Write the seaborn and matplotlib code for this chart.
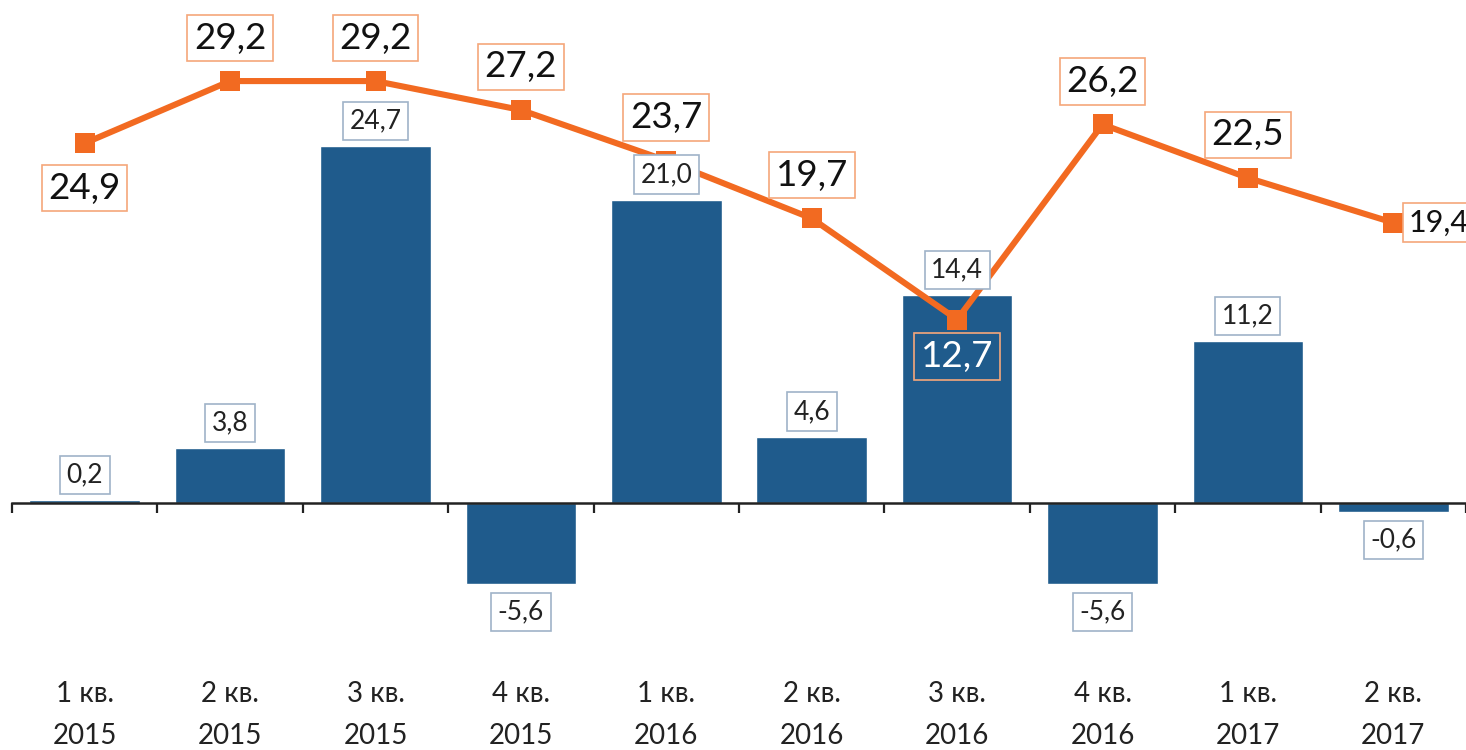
import numpy as np
import pandas as pd
import matplotlib
matplotlib.use('Agg')
import matplotlib.pyplot as plt
import seaborn as sns

quarters = ['1 кв.\n2015', '2 кв.\n2015', '3 кв.\n2015', '4 кв.\n2015',
            '1 кв.\n2016', '2 кв.\n2016', '3 кв.\n2016', '4 кв.\n2016',
            '1 кв.\n2017', '2 кв.\n2017']
bar_values = [0.2, 3.8, 24.7, -5.6, 21.0, 4.6, 14.4, -5.6, 11.2, -0.6]
line_values = [24.9, 29.2, 29.2, 27.2, 23.7, 19.7, 12.7, 26.2, 22.5, 19.4]
# where each line label sits relative to its marker
line_label_side = ['below', 'above', 'above', 'above', 'above',
                   'above', 'below', 'above', 'above', 'right']

BLUE = '#1f5b8c'
ORANGE = '#f26a21'

sns.set_theme(style='white')
plt.rcParams['font.family'] = ['Lato', 'Open Sans', 'DejaVu Sans']

df = pd.DataFrame({'quarter': quarters, 'bars': bar_values, 'line': line_values})

fig = plt.figure(figsize=(14.66, 7.5), dpi=100)
ax = fig.add_axes([12 / 1466, 0, 1 - 12 / 1466, 1])

sns.barplot(data=df, x='quarter', y='bars', color=BLUE, saturation=1,
            width=0.76, ax=ax)
sns.lineplot(x=np.arange(len(quarters)), y=df['line'].values, color=ORANGE,
             lw=4.4, marker='s', markersize=14.5, markeredgewidth=0, ax=ax)

ax.set_xlim(-0.5, 9.5)
ax.set_ylim(-17.09, 34.81)
ax.set_xlabel('')
ax.set_ylabel('')
ax.set_yticks([])

for s in ['left', 'right', 'top']:
    ax.spines[s].set_visible(False)
ax.spines['bottom'].set_position(('data', 0))
ax.spines['bottom'].set_color('#222222')
ax.spines['bottom'].set_linewidth(1.8)

ax.set_xticks(np.arange(len(quarters)))
ax.set_xticklabels(quarters, fontsize=20, color='#222222', linespacing=1.75)
ax.tick_params(axis='x', which='major', bottom=True, length=0, pad=128)
ax.set_xticks(np.arange(-0.5, 10, 1), minor=True)
ax.tick_params(axis='x', which='minor', bottom=True, length=7.5, width=1.6,
               direction='out', color='#222222')

# bar value labels
for i, v in enumerate(bar_values):
    off = 25 if v >= 0 else -28
    ax.annotate(f'{v:.1f}'.replace('.', ','), xy=(i, v), xytext=(0, off),
                textcoords='offset pixels', ha='center', va='center',
                fontsize=19, color='#222222', zorder=6,
                bbox=dict(boxstyle='square,pad=0.25', fc='white',
                          ec='#9fb3c8', lw=1.2))

# line value labels
for i, (v, side) in enumerate(zip(line_values, line_label_side)):
    fc, tc, fs = 'white', '#111111', 26.5
    if side == 'above':
        off, ha = (0, 43), 'center'
    elif side == 'below':
        off, ha = (0, -45), 'center'
    else:
        off, ha, fs = (15, 0), 'left', 22
    if i == 6:
        off = (0, -37)
        fc, tc = BLUE, 'white'
    ax.annotate(f'{v:.1f}'.replace('.', ','), xy=(i, v), xytext=off,
                textcoords='offset pixels', ha=ha, va='center',
                fontsize=fs, color=tc, zorder=5,
                bbox=dict(boxstyle='square,pad=0.18', fc=fc,
                          ec='#f5a77a', lw=1.2))

fig.savefig('out.png', dpi=100)
